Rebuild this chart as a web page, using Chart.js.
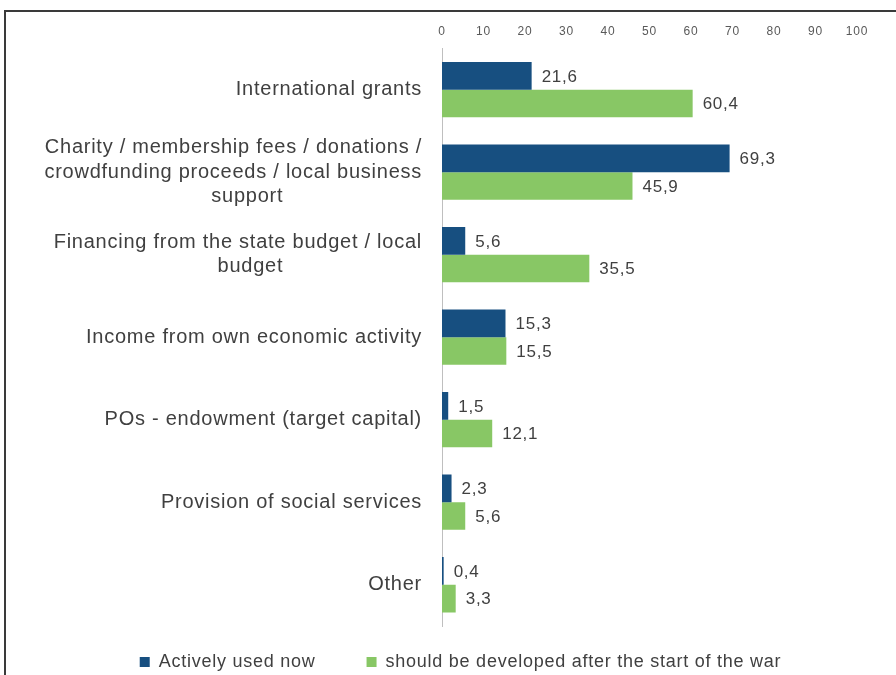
<!DOCTYPE html>
<html>
<head>
<meta charset="utf-8">
<script src="https://cdn.jsdelivr.net/npm/chart.js@4.4.0/dist/chart.umd.min.js"></script>
<style>
  html, body { margin: 0; padding: 0; background: #fff; }
  #wrap { position: relative; width: 896px; height: 675px; }
  #frame { position: absolute; left: 4px; top: 10px; width: 900px; height: 700px;
           border-left: 2px solid #3a3a3a; border-top: 2px solid #3a3a3a; pointer-events: none; }
  canvas { position: absolute; left: 0; top: 0; }
</style>
</head>
<body>
<div id="wrap">
  <canvas id="c" width="896" height="675"></canvas>
  <div id="frame"></div>
</div>
<script>
const categories = [
  "International grants",
  ["Charity / membership fees / donations /", "crowdfunding proceeds / local business", "support"],
  ["Financing from the state budget / local", "budget"],
  "Income from own economic activity",
  "POs - endowment (target capital)",
  "Provision of social services",
  "Other"
];
const seriesNames = ["Actively used now", "should be developed after the start of the war"];
const activelyUsed = [21.6, 69.3, 5.6, 15.3, 1.5, 2.3, 0.4];
const shouldDevelop = [60.4, 45.9, 35.5, 15.5, 12.1, 5.6, 3.3];
const xTicks = [0, 10, 20, 30, 40, 50, 60, 70, 80, 90, 100];

const BLUE = '#174F80';
const GREEN = '#88C765';
const FAMILY = '"Liberation Sans", Arial, sans-serif';
const TRACK = '0.75px';

// centre the short lines of multi-line labels (pad with trailing spaces)
const mctx = document.createElement('canvas').getContext('2d');
mctx.font = '20px ' + FAMILY;
mctx.letterSpacing = TRACK;
function padLabel(lbl) {
  if (!Array.isArray(lbl)) return lbl;
  return lbl.map(line => {
    const w = mctx.measureText(line).width;
    const trailing = 175 - w / 2;
    if (trailing <= 0) return line;
    let s = line;
    while (mctx.measureText(s + ' ').width - w <= trailing) s += ' ';
    return s;
  });
}
const yLabels = categories.map(padLabel);

const tracking = {
  id: 'tracking',
  beforeInit(chart) { chart.ctx.letterSpacing = TRACK; },
  beforeLayout(chart) { chart.ctx.letterSpacing = TRACK; },
  beforeDraw(chart) { chart.ctx.letterSpacing = TRACK; }
};

// nudge the legend to the right, like the reference
const legendShift = {
  id: 'legendShift',
  afterLayout(chart) {
    if (chart.legend) { chart.legend.left += 32; chart.legend.right += 32; }
  }
};

const valueLabels = {
  id: 'valueLabels',
  afterDatasetsDraw(chart) {
    const ctx = chart.ctx;
    ctx.save();
    ctx.font = '17px ' + FAMILY;
    ctx.fillStyle = '#404040';
    ctx.textAlign = 'left';
    ctx.textBaseline = 'middle';
    chart.data.datasets.forEach((ds, i) => {
      chart.getDatasetMeta(i).data.forEach((bar, j) => {
        const txt = ds.data[j].toFixed(1).replace('.', ',');
        ctx.fillText(txt, bar.x + 10, bar.y + 1);
      });
    });
    ctx.restore();
  }
};

new Chart(document.getElementById('c'), {
  type: 'bar',
  data: {
    labels: yLabels,
    datasets: [
      { label: seriesNames[0], data: activelyUsed, backgroundColor: BLUE, borderWidth: 0,
        categoryPercentage: 0.67, barPercentage: 1.0 },
      { label: seriesNames[1], data: shouldDevelop, backgroundColor: GREEN, borderWidth: 0,
        categoryPercentage: 0.67, barPercentage: 1.0 }
    ]
  },
  options: {
    indexAxis: 'y',
    responsive: false,
    animation: false,
    layout: { padding: { left: 0, right: 39, top: 14, bottom: -6 } },
    plugins: {
      tooltip: { enabled: false },
      legend: {
        position: 'bottom',
        labels: {
          boxWidth: 10, boxHeight: 10, padding: 5,
          color: '#404040',
          font: { size: 18, family: FAMILY },
          generateLabels(chart) {
            const items = Chart.defaults.plugins.legend.labels.generateLabels(chart);
            items.forEach((it, i) => { if (i === 0) it.text = it.text + '        '; });
            return items;
          }
        }
      }
    },
    scales: {
      x: {
        position: 'top',
        min: 0, max: 100,
        afterBuildTicks(scale) { scale.ticks = xTicks.map(v => ({ value: v })); },
        grid: { display: false, drawTicks: false },
        border: { display: false },
        ticks: {
          padding: 10,
          color: '#595959',
          font: { size: 12, family: FAMILY }
        }
      },
      xb: {
        axis: 'x',
        position: 'bottom',
        display: true,
        grid: { display: false, drawTicks: false },
        border: { display: false },
        ticks: { display: false },
        afterFit(scale) { scale.height = 22; }
      },
      y: {
        grid: { display: false, drawTicks: false },
        border: { display: true, color: '#BFBFBF', width: 1 },
        afterFit(scale) { scale.width = 442; },
        ticks: {
          padding: 20,
          color: '#404040',
          font: { size: 20, family: FAMILY, lineHeight: 1.22 }
        }
      }
    }
  },
  plugins: [tracking, legendShift, valueLabels]
});
</script>
</body>
</html>
